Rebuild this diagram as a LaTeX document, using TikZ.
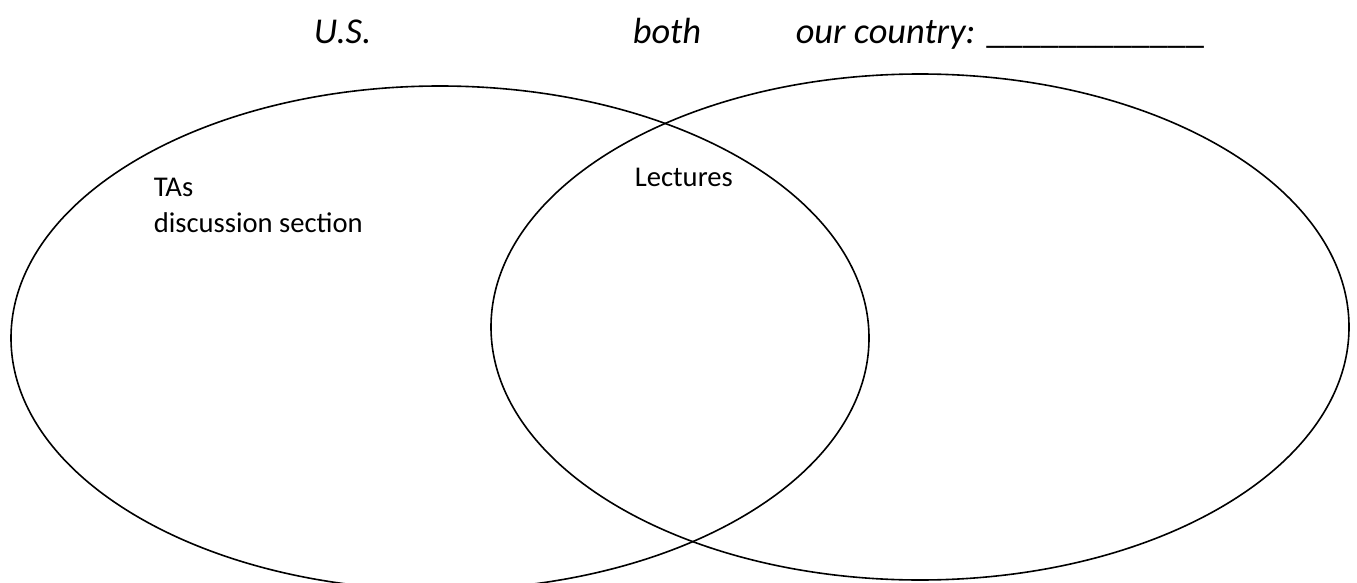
\documentclass[tikz,border=0pt]{standalone}
\usepackage{fontspec}
\setmainfont{Carlito}
\usepackage{tikz}

\begin{document}
\begin{tikzpicture}[x=1pt, y=-1pt, line width=1.6pt,
    every node/.style={inner sep=0pt, anchor=base west},
    hdr/.style={font=\fontsize{36.4}{44}\selectfont\itshape},
    lbl/.style={font=\fontsize{28.6}{36}\selectfont}]
  \useasboundingbox (0,0) rectangle (1357,583);
  \clip (0,0) rectangle (1357,583);
  % the two sets
  \draw (440,338) ellipse [x radius=429pt, y radius=252pt];
  \draw (920,327) ellipse [x radius=429pt, y radius=253pt];
  % column titles
  \node[hdr] (us)      at (313,44) {U.S.};
  \node[hdr] (both)    at (632,44) {both};
  \node[hdr] (country) at (795,44) {our country: {\upshape\_\_\_\_\_\_\_\_\_\_\_\_}};
  % entries
  \node[lbl] (tas)      at (153,196) {TAs};
  \node[lbl] (section)  at (153,232) {discussion section};
  \node[lbl] (lectures) at (634,186) {Lectures};
\end{tikzpicture}
\end{document}
